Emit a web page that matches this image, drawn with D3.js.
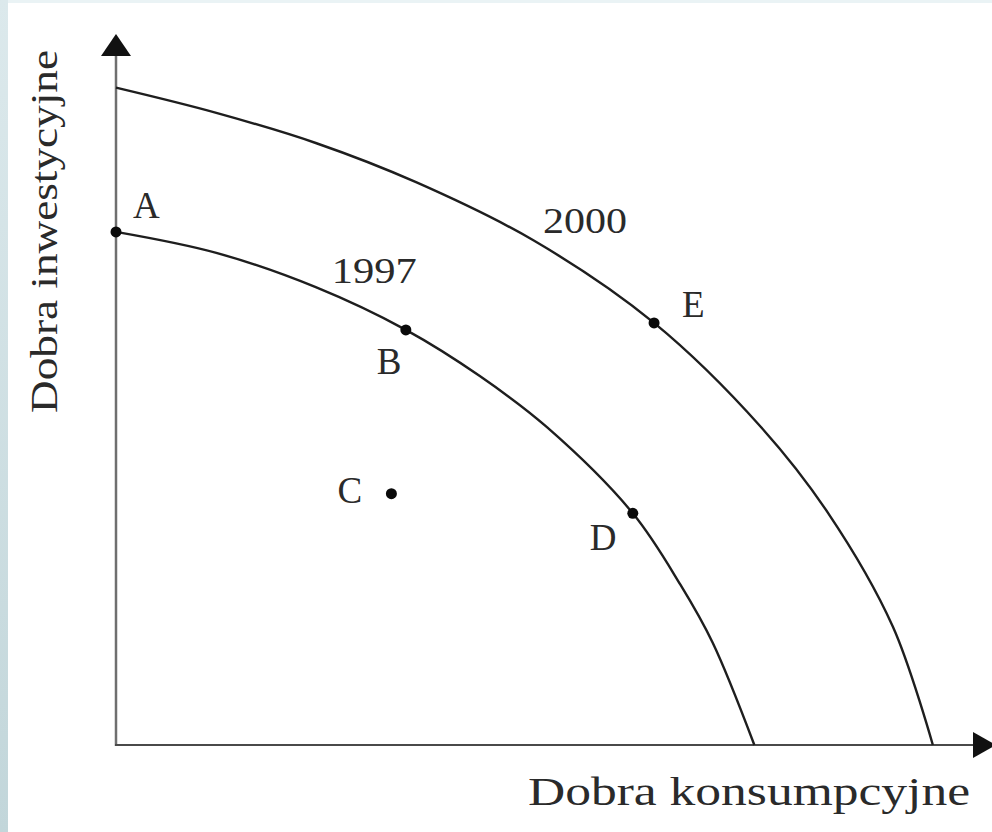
<!DOCTYPE html>
<html>
<head>
<meta charset="utf-8">
<script src="https://cdn.jsdelivr.net/npm/d3@7"></script>
<style>
  html, body { margin: 0; padding: 0; background: #fff; }
  svg { display: block; }
  .lbl { font-family: "Liberation Serif", "DejaVu Serif", serif; fill: #2a2a2a; }
</style>
</head>
<body>
<div id="chart"></div>
<script>
// krzywe mozliwosci produkcyjnych (jednostki umowne)
const frontier1997X = [0, 11.8, 23.5, 34.1, 42.8, 50.7, 60.8, 66.4, 70.2, 75.1];
const frontier1997Y = [73.3, 70.3, 65.4, 59.3, 52.7, 45.4, 33.1, 22.9, 14.6, 0];
const frontier2000X = [0, 11.8, 23.5, 35.3, 49.1, 63.3, 75.9, 83.8, 91.4, 96.1];
const frontier2000Y = [93.9, 90.3, 86.0, 80.4, 72.1, 60.3, 45.4, 33.1, 16.9, 0];

const pointNames = ["A", "B", "C", "D", "E"];
const pointX = [0, 34.1, 32.4, 60.8, 63.3];
const pointY = [73.3, 59.3, 35.9, 33.1, 60.3];

const curveNames = ["1997", "2000"];
const xTitle = "Dobra  konsumpcyjne";
const yTitle = "Dobra  inwestycyjne";

const width = 992, height = 832;

const svg = d3.select("#chart").append("svg")
    .attr("width", width)
    .attr("height", height);

// tlo - niebieskawy pasek z lewej
const grad = svg.append("defs").append("linearGradient")
    .attr("id", "edge").attr("x1", 0).attr("y1", 0).attr("x2", 0).attr("y2", 1);
grad.append("stop").attr("offset", "0%").attr("stop-color", "#dce9ec");
grad.append("stop").attr("offset", "100%").attr("stop-color", "#c2d6da");
svg.append("rect").attr("width", width).attr("height", height).attr("fill", "#fff");
svg.append("rect").attr("width", width).attr("height", 3).attr("fill", "#eaf3f5");
svg.append("rect").attr("width", 8).attr("height", height).attr("fill", "url(#edge)");

const x = d3.scaleLinear().domain([0, 100]).range([116, 966]);
const y = d3.scaleLinear().domain([0, 100]).range([745, 45]);

// osie ze strzalkami
const axes = svg.append("g");
axes.append("line")
    .attr("x1", x(0)).attr("y1", y(0) + 1)
    .attr("x2", x(0)).attr("y2", 50)
    .attr("stroke", "#6f6f6f").attr("stroke-width", 2.5);
axes.append("line")
    .attr("x1", x(0) - 1).attr("y1", y(0))
    .attr("x2", 978).attr("y2", y(0))
    .attr("stroke", "#4a4a4a").attr("stroke-width", 2.2);
axes.append("path")
    .attr("d", d3.line()([[x(0), 34], [x(0) - 15, 56], [x(0) + 15, 56]]) + "Z")
    .attr("fill", "#111");
axes.append("path")
    .attr("d", d3.line()([[996, y(0)], [973, y(0) - 13], [973, y(0) + 13]]) + "Z")
    .attr("fill", "#111");

// krzywe
const line = d3.line()
    .x(d => x(d[0]))
    .y(d => y(d[1]))
    .curve(d3.curveCatmullRom.alpha(0.5));

const curves = [
    d3.zip(frontier1997X, frontier1997Y),
    d3.zip(frontier2000X, frontier2000Y)
];

svg.append("g").selectAll("path")
    .data(curves)
    .enter()
    .append("path")
    .attr("d", line)
    .attr("fill", "none")
    .attr("stroke", "#1e1e1e")
    .attr("stroke-width", 2.4);

// punkty
const pts = pointNames.map((n, i) => ({name: n, x: pointX[i], y: pointY[i]}));
svg.append("g").selectAll("circle")
    .data(pts)
    .enter()
    .append("circle")
    .attr("cx", d => x(d.x))
    .attr("cy", d => y(d.y))
    .attr("r", 5.5)
    .attr("fill", "#0a0a0a");

const labelOffset = {A: [17, -14], B: [-29, 44], C: [-54, 9], D: [-43, 37], E: [28, -6]};
svg.append("g").selectAll("text")
    .data(pts)
    .enter()
    .append("text")
    .attr("class", "lbl")
    .attr("x", d => x(d.x) + labelOffset[d.name][0])
    .attr("y", d => y(d.y) + labelOffset[d.name][1])
    .attr("font-size", 37)
    .text(d => d.name);

// podpisy krzywych - obok punktow B i E
svg.append("text").attr("class", "lbl")
    .attr("x", x(pointX[1]) - 74).attr("y", y(pointY[1]) - 47)
    .attr("font-size", 36)
    .attr("textLength", 85).attr("lengthAdjust", "spacingAndGlyphs")
    .text(curveNames[0]);
svg.append("text").attr("class", "lbl")
    .attr("x", x(pointX[4]) - 111).attr("y", y(pointY[4]) - 90)
    .attr("font-size", 36)
    .attr("textLength", 84).attr("lengthAdjust", "spacingAndGlyphs")
    .text(curveNames[1]);

// tytuly osi
svg.append("text").attr("class", "lbl")
    .attr("x", 528).attr("y", 805)
    .attr("font-size", 40)
    .attr("fill", "#333")
    .attr("textLength", 442).attr("lengthAdjust", "spacingAndGlyphs")
    .text(xTitle);

svg.append("text").attr("class", "lbl")
    .attr("transform", "translate(57,413) rotate(-90)")
    .attr("font-size", 38)
    .attr("textLength", 363).attr("lengthAdjust", "spacingAndGlyphs")
    .text(yTitle);
</script>
</body>
</html>
